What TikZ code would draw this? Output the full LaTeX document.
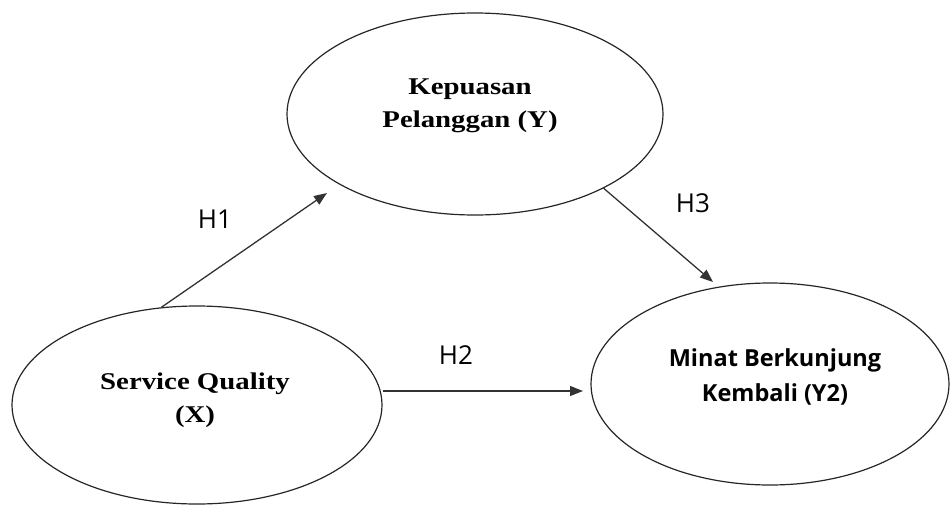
\documentclass[tikz,border=0pt]{standalone}
\usepackage{fontspec}
\setmainfont{Liberation Serif}
\newfontfamily\wideserif[FakeStretch=1.2]{Liberation Serif}
\newfontfamily\uisans{Open Sans}
\usetikzlibrary{shapes.geometric, arrows.meta, positioning, calc}

\begin{document}
\begin{tikzpicture}[
        x=1pt, y=-1pt,
        var/.style={ellipse, draw=black!85, line width=1.2pt, inner sep=0pt},
        serifvar/.style={align=center, font=\wideserif\bfseries\fontsize{24}{33}\selectfont},
        sansvar/.style={align=center, font=\uisans\bfseries\fontsize{23.5}{35}\selectfont},
        hyp/.style={font=\uisans\fontsize{26}{30}\selectfont},
        arr/.style={-{Triangle[length=13pt, width=10pt]}, line width=1.3pt, draw=black!80, fill=black!80}
    ]
        \useasboundingbox (0,0) rectangle (951,506);

        \node[var, minimum width=376, minimum height=202] (kep) at (475,114) {};
        \node[var, minimum width=370, minimum height=198] (sq) at (197,405) {};
        \node[var, minimum width=358, minimum height=202] (minat) at (770,384) {};

        \node[serifvar] (keptext) at (470,106) {Kepuasan\\Pelanggan (Y)};
        \node[serifvar] (sqtext) at (195,400) {Service Quality\\(X)};
        \node[sansvar] (minattext) at (775,377) {Minat Berkunjung\\Kembali (Y2)};

        \coordinate (h1tip) at (327,193);
        \coordinate (h2tip) at (583,391);
        \coordinate (h3tip) at (713,282);

        \draw[arr] (sq.110) -- (h1tip);
        \draw[arr] (h2tip -| sq.east) -- (h2tip);
        \draw[arr] (kep.-30) -- (h3tip);

        \node[hyp] (h1) at (215,219) {H1};
        \node[hyp] (h2) at (456,355) {H2};
        \node[hyp] (h3) at (693,203) {H3};
    \end{tikzpicture}
\end{document}
